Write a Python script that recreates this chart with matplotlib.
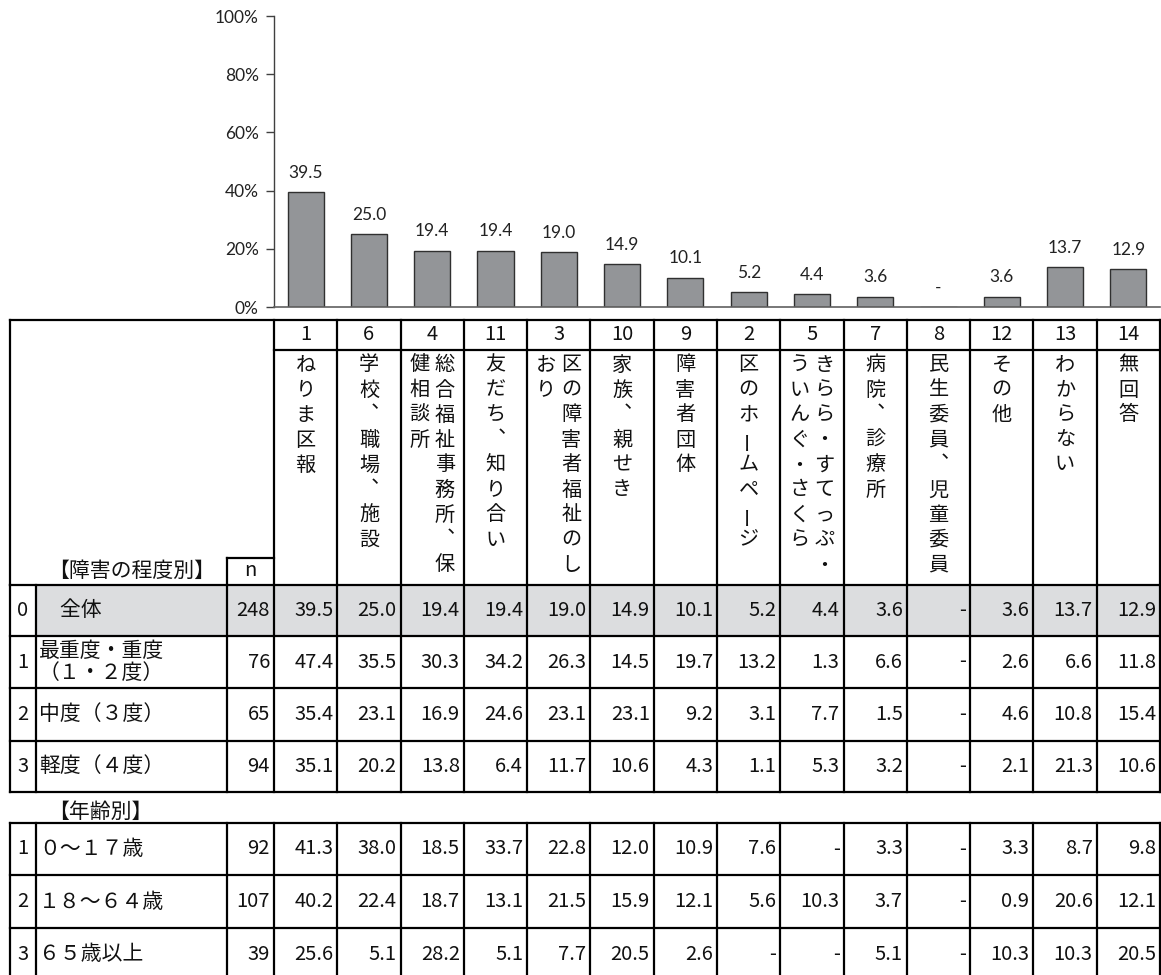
"""
    Information sources by disability level and age group.

    Bar chart of the overall answers on top, cross table below.
"""

import numpy as np
import matplotlib
matplotlib.use("Agg")
import matplotlib.pyplot as plt
from matplotlib.patches import Rectangle

plt.rcParams['font.family'] = ['Noto Sans CJK JP', 'DejaVu Sans']

# answer codes and texts, in the order of the columns
codes = [1, 6, 4, 11, 3, 10, 9, 2, 5, 7, 8, 12, 13, 14]
items = ["ねりま区報", "学校、職場、施設", "総合福祉事務所、保健相談所",
         "友だち、知り合い", "区の障害者福祉のしおり", "家族、親せき",
         "障害者団体", "区のホームページ", "きらら・すてっぷ・ういんぐ・さくら",
         "病院、診療所", "民生委員、児童委員", "その他", "わからない", "無回答"]

# overall shares (%), None = no answer ("-")
overall = [39.5, 25.0, 19.4, 19.4, 19.0, 14.9, 10.1, 5.2, 4.4, 3.6, None, 3.6, 13.7, 12.9]

# by level of disability
deg_idx = [0, 1, 2, 3]
deg_labels = ["　全体", "最重度・重度\n（１・２度）", "中度（３度）", "軽度（４度）"]
deg_n = [248, 76, 65, 94]
deg_vals = [
    overall,
    [47.4, 35.5, 30.3, 34.2, 26.3, 14.5, 19.7, 13.2, 1.3, 6.6, None, 2.6, 6.6, 11.8],
    [35.4, 23.1, 16.9, 24.6, 23.1, 23.1, 9.2, 3.1, 7.7, 1.5, None, 4.6, 10.8, 15.4],
    [35.1, 20.2, 13.8, 6.4, 11.7, 10.6, 4.3, 1.1, 5.3, 3.2, None, 2.1, 21.3, 10.6],
]

# by age
age_idx = [1, 2, 3]
age_labels = ["０～１７歳", "１８～６４歳", "６５歳以上"]
age_n = [92, 107, 39]
age_vals = [
    [41.3, 38.0, 18.5, 33.7, 22.8, 12.0, 10.9, 7.6, None, 3.3, None, 3.3, 8.7, 9.8],
    [40.2, 22.4, 18.7, 13.1, 21.5, 15.9, 12.1, 5.6, 10.3, 3.7, None, 0.9, 20.6, 12.1],
    [25.6, 5.1, 28.2, 5.1, 7.7, 20.5, 2.6, None, None, 5.1, None, 10.3, 10.3, 20.5],
]

yticks = [0, 20, 40, 60, 80, 100]

W, H = 1161, 975
fig = plt.figure(figsize=(W / 100, H / 100), dpi=100)

# table geometry, in pixels
x_left, x_idx, x_n = 9.6, 36, 227
c0, c1 = 274, 1160
col_edges = np.linspace(c0, c1, len(codes) + 1)
col_mid = (col_edges[:-1] + col_edges[1:]) / 2

# ---- bar chart ----
ax = fig.add_axes([c0 / W, 1 - 307 / H, (c1 - c0) / W, (307 - 16) / H])
x = np.arange(len(codes))
heights = [v if v is not None else 0 for v in overall]
ax.bar(x, heights, width=0.57, color='#939598', edgecolor='#303030', linewidth=1.0)
for i, v in enumerate(overall):
    lab = f"{v:.1f}" if v is not None else "-"
    ax.annotate(lab, (i, heights[i]), xytext=(0, 8), textcoords='offset points',
                ha='center', va='bottom', fontsize=12.5, family=['Lato', 'DejaVu Sans'],
                color='#222222')
ax.set_xlim(-0.5, len(codes) - 0.5)
ax.set_ylim(0, 100)
ax.set_yticks(yticks)
ax.set_yticklabels([f"{t}%" for t in yticks], fontsize=12.5, family=['Lato', 'DejaVu Sans'],
                   color='#222222')
ax.set_xticks([])
ax.tick_params(axis='y', length=6, width=1, color='#404040', pad=5)
for s in ['top', 'right']:
    ax.spines[s].set_visible(False)
ax.spines['left'].set_color('#404040')
ax.spines['bottom'].set_color('#606060')
ax.spines['left'].set_linewidth(1)
ax.spines['bottom'].set_linewidth(1.2)

# ---- table ----
tax = fig.add_axes([0, 0, 1, 1])
tax.set_xlim(0, W)
tax.set_ylim(H, 0)
tax.axis('off')

lw = 1.6
num_font = dict(family=['Noto Sans CJK JP', 'DejaVu Sans'], fontsize=14.5, color='#111111')
jp_font = dict(family=['Noto Sans CJK JP', 'DejaVu Sans'], fontsize=15, color='#111111')
head_size = 14.5


def hline(y, xa, xb):
    tax.plot([xa, xb], [y, y], color='black', lw=lw, solid_capstyle='projecting')


def vline(xv, ya, yb):
    tax.plot([xv, xv], [ya, yb], color='black', lw=lw, solid_capstyle='projecting')


# header block
top, num_bot, head_bot = 320, 350, 585
hline(top, x_left, c1)
hline(num_bot, c0, c1)
vline(x_left, top, head_bot)
for xe in col_edges:
    vline(xe, top, head_bot)
hline(558, x_n, c0)
vline(x_n, 558, head_bot)
tax.text((x_n + c0) / 2, 571, "n", ha='center', va='center', **num_font)
tax.text(48, 571, "【障害の程度別】", ha='left', va='center', **jp_font)

step = 25
for xm, code, item in zip(col_mid, codes, items):
    tax.text(xm, 335, str(code), ha='center', va='center', **num_font)
    # vertical writing: columns of nine characters, right to left
    chunks = [item[k:k + 9] for k in range(0, len(item), 9)]
    n_ch = len(chunks)
    for ci, chunk in enumerate(chunks):
        xc = xm + (n_ch - 1) * 12.5 - ci * step
        for k, ch in enumerate(chunk):
            yc = 365 + k * step
            if ch == 'ー':
                tax.text(xc, yc, ch, ha='center', va='center', rotation=90,
                         fontsize=head_size, color='#111111')
            elif ch == '、':
                tax.text(xc, yc, '︑', ha='center', va='center',
                         fontsize=head_size, color='#111111')
            else:
                tax.text(xc, yc, ch, ha='center', va='center',
                         fontsize=head_size, color='#111111')


def draw_block(y_edges, idx, labels, ns, vals, shade_first):
    if shade_first:
        tax.add_patch(Rectangle((x_idx, y_edges[0]), c1 - x_idx, y_edges[1] - y_edges[0],
                                facecolor='#dcdddf', edgecolor='none', zorder=0))
    for y in y_edges:
        if y < H - 2:
            hline(y, x_left, c1)
    ya, yb = y_edges[0], min(y_edges[-1], H + 5)
    for xv in [x_left, x_idx, x_n] + list(col_edges):
        vline(xv, ya, yb)
    for r in range(len(idx)):
        yc = (y_edges[r] + y_edges[r + 1]) / 2
        tax.text((x_left + x_idx) / 2, yc, str(idx[r]), ha='center', va='center', **num_font)
        tax.text(x_idx + 3, yc, labels[r], ha='left', va='center', linespacing=0.95, **jp_font)
        tax.text(c0 - 4, yc, str(ns[r]), ha='right', va='center', **num_font)
        for j, v in enumerate(vals[r]):
            lab = f"{v:.1f}" if v is not None else "-"
            tax.text(col_edges[j + 1] - 4, yc, lab, ha='right', va='center', **num_font)


draw_block([585, 636, 688, 741, 792], deg_idx, deg_labels, deg_n, deg_vals, True)
tax.text(48, 812, "【年齢別】", ha='left', va='center', **jp_font)
draw_block([823, 875, 928, 981], age_idx, age_labels, age_n, age_vals, False)

fig.savefig("out.png", dpi=100)
